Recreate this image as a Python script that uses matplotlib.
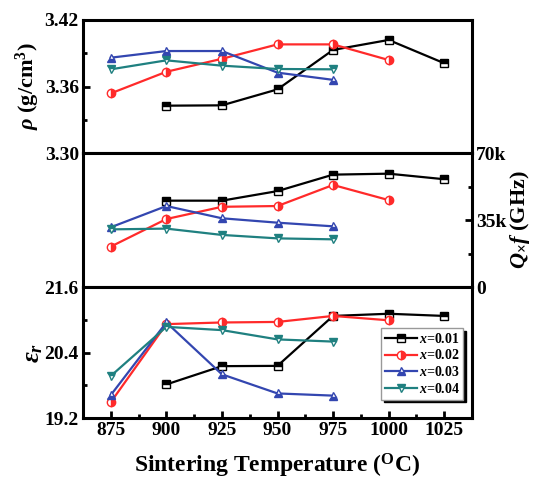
import matplotlib
matplotlib.use("Agg")
import matplotlib.pyplot as plt
from matplotlib.ticker import MultipleLocator, FuncFormatter

plt.rcParams['font.family'] = ['Liberation Serif', 'DejaVu Serif']
plt.rcParams['font.weight'] = 'bold'
plt.rcParams['mathtext.fontset'] = 'custom'
plt.rcParams['mathtext.rm'] = 'Liberation Serif:bold'
plt.rcParams['mathtext.bf'] = 'Liberation Serif:bold'
plt.rcParams['mathtext.it'] = 'Liberation Serif:italic:bold'

temps = [875, 900, 925, 950, 975, 1000, 1025]
labels = ['$x$=0.01', '$x$=0.02', '$x$=0.03', '$x$=0.04']

# density (g/cm3)
rho_01 = [3.3427, 3.343, 3.3574, 3.393, 3.402, 3.381]
rho_02 = [3.3538, 3.3733, 3.385, 3.398, 3.398, 3.3839]
rho_03 = [3.386, 3.392, 3.392, 3.3725, 3.366]
rho_04 = [3.3755, 3.3836, 3.3788, 3.3758, 3.3755]

# Q x f (GHz)
qf_01 = [45100, 45100, 50100, 58700, 59200, 56300]
qf_02 = [21100, 35500, 41900, 42300, 53300, 45400]
qf_03 = [31200, 42300, 35900, 33600, 31700]
qf_04 = [30100, 30500, 27200, 25400, 24900]

# permittivity
er_01 = [19.815, 20.15, 20.155, 21.07, 21.11, 21.07]
er_02 = [19.49, 20.92, 20.95, 20.96, 21.07, 20.99]
er_03 = [19.62, 20.95, 20.0, 19.65, 19.61]
er_04 = [19.97, 20.87, 20.81, 20.64, 20.6]

t01 = temps[1:7]
t02 = temps[0:6]
t03 = temps[0:5]
t04 = temps[0:5]

styles = [
    dict(color='black', marker='s', fillstyle='top'),
    dict(color='#ff2a2a', marker='o', fillstyle='right'),
    dict(color='#3346b0', marker='^', fillstyle='bottom'),
    dict(color='#1f8080', marker='v', fillstyle='top'),
]

fig = plt.figure(figsize=(5.36, 4.86), dpi=100)
L, R = 83/536, 472/536
y_top, y1, y2, y_bot = 1-20/486, 1-153/486, 1-287/486, 1-418/486
ax1 = fig.add_axes([L, y1, R-L, y_top-y1])
ax2 = fig.add_axes([L, y2, R-L, y1-y2])
ax3 = fig.add_axes([L, y_bot, R-L, y2-y_bot])

series = [
    (ax1, [(t01, rho_01), (t02, rho_02), (t03, rho_03), (t04, rho_04)]),
    (ax2, [(t01, qf_01), (t02, qf_02), (t03, qf_03), (t04, qf_04)]),
    (ax3, [(t01, er_01), (t02, er_02), (t03, er_03), (t04, er_04)]),
]
for ax, data in series:
    for (xs, ys), st, lab in zip(data, styles, labels):
        ax.plot(xs, ys, color=st['color'], lw=1.6, marker=st['marker'],
                fillstyle=st['fillstyle'], markerfacecoloralt='white',
                markeredgecolor=st['color'], markersize=6, markeredgewidth=1.0,
                label=lab)
    ax.set_xlim(862.5, 1037.5)
    for sp in ax.spines.values():
        sp.set_linewidth(2.2)

tick_kw = dict(direction='in', width=2, labelsize=14, pad=3)

ax1.set_ylim(3.30, 3.42)
ax1.yaxis.set_major_locator(MultipleLocator(0.06))
ax1.yaxis.set_minor_locator(MultipleLocator(0.03))
ax1.yaxis.set_major_formatter(FuncFormatter(lambda v, p: f"{v:.2f}"))
ax1.tick_params(axis='y', which='major', length=5, **tick_kw)
ax1.tick_params(axis='y', which='minor', direction='in', length=3, width=2)
ax1.tick_params(axis='x', which='both', bottom=False, labelbottom=False)
ax1.set_ylabel(r'$\rho$ (g/cm$^3$)', fontsize=16, fontweight='bold', labelpad=2)

ax2.set_ylim(0, 70000)
ax2.yaxis.tick_right()
ax2.yaxis.set_label_position('right')
ax2.yaxis.set_major_locator(MultipleLocator(35000))
ax2.yaxis.set_minor_locator(MultipleLocator(17500))
ax2.yaxis.set_major_formatter(FuncFormatter(lambda v, p: '0' if v == 0 else f"{int(v/1000)}k"))
ax2.tick_params(axis='y', which='major', length=5, **tick_kw)
ax2.tick_params(axis='y', which='minor', direction='in', length=3, width=2)
ax2.tick_params(axis='x', which='both', bottom=False, labelbottom=False)
ax2.set_ylabel(r'$Q_{\times}f$ (GHz)', fontsize=16, fontweight='bold', labelpad=1)

ax3.set_ylim(19.2, 21.6)
ax3.yaxis.set_major_locator(MultipleLocator(1.2))
ax3.yaxis.set_minor_locator(MultipleLocator(0.6))
ax3.yaxis.set_major_formatter(FuncFormatter(lambda v, p: f"{v:.1f}"))
ax3.xaxis.set_major_locator(MultipleLocator(25))
ax3.xaxis.set_minor_locator(MultipleLocator(12.5))
ax3.tick_params(axis='both', which='major', length=5, **tick_kw)
ax3.tick_params(axis='both', which='minor', direction='in', length=3, width=2)
ax3.set_ylabel(r'$\varepsilon_r$', fontsize=19, fontweight='bold', labelpad=0)
ax3.set_xlabel(r'Sintering Temperature ($^{\mathrm{O}}$C)', fontsize=17,
               fontweight='bold', labelpad=9)

leg = ax3.legend(loc='lower right', bbox_to_anchor=(0.985, 0.12), fontsize=10,
                 frameon=True, shadow={'color': 'black', 'alpha': 1.0},
                 fancybox=False, handlelength=2.3,
                 borderpad=0.25, labelspacing=0.2, handletextpad=0.15,
                 borderaxespad=0.2)
leg.get_frame().set_edgecolor('#999999')
leg.get_frame().set_linewidth(1.0)
for t in leg.get_texts():
    t.set_fontweight('bold')

fig.savefig('out.png', dpi=100)
